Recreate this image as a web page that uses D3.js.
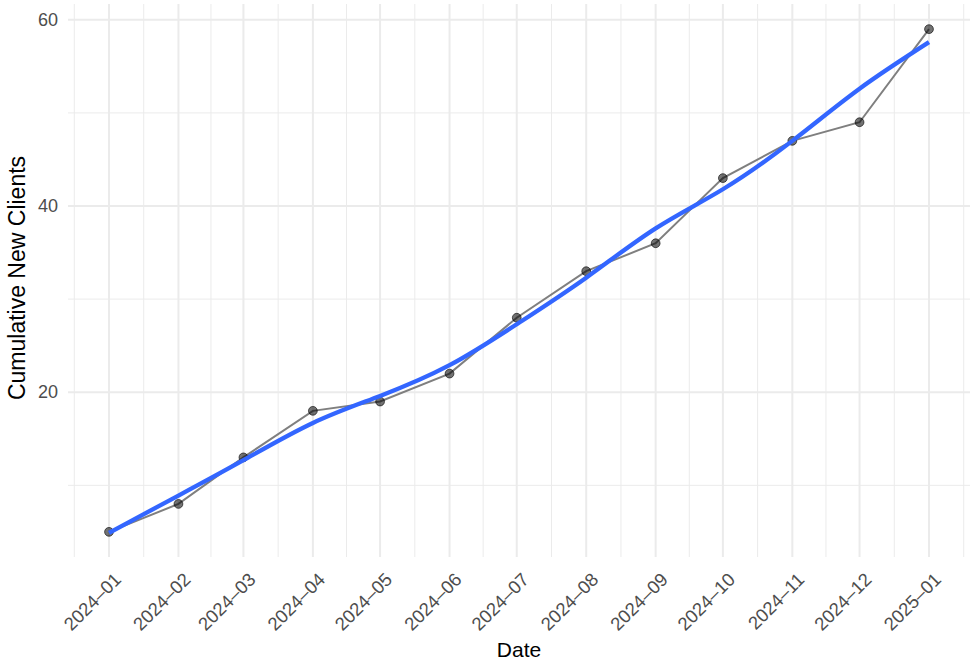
<!DOCTYPE html>
<html><head><meta charset="utf-8">
<script src="https://cdn.jsdelivr.net/npm/d3@7"></script>
<style>body{margin:0;background:#fff}svg{display:block}text{font-family:"Liberation Sans",Arial,Helvetica,sans-serif}</style>
</head><body><div id="chart"></div>
<script>
const months = ["2024-01","2024-02","2024-03","2024-04","2024-05","2024-06","2024-07","2024-08","2024-09","2024-10","2024-11","2024-12","2025-01"];
const cumulativeClients = [5, 8, 13, 18, 19, 22, 28, 33, 36, 43, 47, 49, 59];
const smoothValues = [4.9, 8.9, 12.7, 16.7, 19.6, 22.9, 27.3, 32.3, 37.6, 41.8, 47.0, 52.6, 57.6];
const yTicks = [20, 40, 60];
const yMinorTicks = [10, 30, 50];

const W = 978, H = 665;
const m = {left: 68, right: 8, top: 4, bottom: 108};
const svg = d3.select("#chart").append("svg").attr("width", W).attr("height", H);

const parse = d3.timeParse("%Y-%m");
const dates = months.map(parse);
const pad = (dates[dates.length-1] - dates[0]) * 0.05;
const x = d3.scaleTime()
  .domain([new Date(+dates[0] - pad), new Date(+dates[dates.length-1] + pad)])
  .range([m.left, W - m.right]);
const yr = d3.extent(cumulativeClients), ypad = (yr[1]-yr[0])*0.05;
const y = d3.scaleLinear().domain([yr[0]-ypad, yr[1]+ypad]).range([H - m.bottom, m.top]);

const grid = svg.append("g");
const allMonths = [d3.timeMonth.offset(dates[0], -1), ...dates, d3.timeMonth.offset(dates[dates.length-1], 1)];
const minorX = [];
for (let i = 0; i < allMonths.length - 1; i++) {
  const mid = new Date((+allMonths[i] + +allMonths[i+1]) / 2);
  if (mid >= x.domain()[0] && mid <= x.domain()[1]) minorX.push(mid);
}
grid.selectAll(".mx").data(minorX).join("line")
  .attr("x1", d => x(d)).attr("x2", d => x(d)).attr("y1", m.top).attr("y2", H - m.bottom)
  .attr("stroke", "#ebebeb").attr("stroke-width", 1);
grid.selectAll(".my").data(yMinorTicks).join("line")
  .attr("x1", m.left).attr("x2", W - m.right).attr("y1", d => y(d)).attr("y2", d => y(d))
  .attr("stroke", "#ebebeb").attr("stroke-width", 1);
grid.selectAll(".Mx").data(dates).join("line")
  .attr("x1", d => x(d)).attr("x2", d => x(d)).attr("y1", m.top).attr("y2", H - m.bottom)
  .attr("stroke", "#ebebeb").attr("stroke-width", 2);
grid.selectAll(".My").data(yTicks).join("line")
  .attr("x1", m.left).attr("x2", W - m.right).attr("y1", d => y(d)).attr("y2", d => y(d))
  .attr("stroke", "#ebebeb").attr("stroke-width", 2);

// y axis labels
const yAxis = svg.append("g").attr("transform", `translate(${m.left - 10},0)`)
  .call(d3.axisLeft(y).tickValues(yTicks).tickSize(0).tickPadding(0));
yAxis.select(".domain").remove();
yAxis.selectAll("text").attr("fill", "#4d4d4d").style("font-size", "18px");

// x axis labels
const xAxis = svg.append("g").attr("transform", `translate(0,${H - m.bottom + 10})`)
  .call(d3.axisBottom(x).tickValues(dates).tickSize(0).tickPadding(0).tickFormat((d,i) => months[i].replace("-", "–")));
xAxis.select(".domain").remove();
xAxis.selectAll("text")
  .attr("fill", "#4d4d4d").style("font-size", "18.5px")
  .attr("text-anchor", "end").attr("dy", "0.75em").attr("y", 0).attr("x", 0)
  .attr("transform", "translate(3,4) rotate(-45)");

// titles
svg.append("text").attr("x", (m.left + W - m.right)/2).attr("y", 657)
  .attr("text-anchor", "middle").style("font-size", "21px").attr("fill", "#000").text("Date");
svg.append("text").attr("transform", `translate(25,278) rotate(-90)`)
  .attr("text-anchor", "middle").style("font-size", "23px").attr("fill", "#000").text("Cumulative New Clients");

// data line
const line = d3.line().x((d,i) => x(dates[i])).y(d => y(d));
svg.append("path").datum(cumulativeClients).attr("d", line)
  .attr("fill", "none").attr("stroke", "#7f7f7f").attr("stroke-width", 2);
svg.selectAll(".pt").data(cumulativeClients).join("circle")
  .attr("cx", (d,i) => x(dates[i])).attr("cy", d => y(d)).attr("r", 4.4)
  .attr("fill", "#000").attr("fill-opacity", 0.55).attr("stroke", "#000").attr("stroke-opacity", 0.6).attr("stroke-width", 1);

// smooth
const sline = d3.line().x((d,i) => x(dates[i])).y(d => y(d)).curve(d3.curveNatural);
svg.append("path").datum(smoothValues).attr("d", sline)
  .attr("fill", "none").attr("stroke", "#3366FF").attr("stroke-width", 4.3);
</script></body></html>
